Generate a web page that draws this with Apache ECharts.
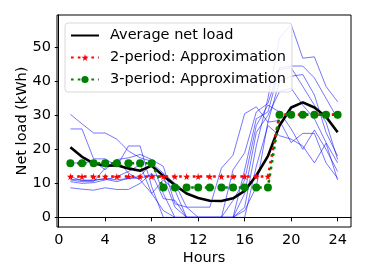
<!DOCTYPE html>
<html>
<head>
<meta charset="utf-8">
<script src="https://cdn.jsdelivr.net/npm/echarts@6/dist/echarts.min.js"></script>
<style>html,body{margin:0;padding:0;background:#fff;}#c{width:374px;height:280px;}</style>
</head>
<body>
<div id="c"></div>
<script>
const hours = [1,2,3,4,5,6,7,8,9,10,11,12,13,14,15,16,17,18,19,20,21,22,23,24];
const xTicks = [0,4,8,12,16,20,24];
const yTicks = [0,10,20,30,40,50];

const house1 = [30.3,27.5,24.8,24.8,23,19.5,17.5,16.5,7,0,0,0,0,0,0,3,21,35,52.8,56.7,46.8,47.2,38.5,34];
const house2 = [26,26,17.2,17.2,15,21,21,9,0,0,0,0,0,0,14,19,31,33.5,44,44.5,44.5,41,35,29];
const house3 = [11,10.5,10.5,14.5,17,17.5,18.5,17,15,4,3,3,3,14.5,18.3,30.5,32.5,28,40,41.5,42,36,25,18];
const house4 = [10.5,10,10.2,11,12,13.5,15.5,7,2,0,0,0,0,0,5,11,27,33,31,26,20,25.7,20,13.5];
const house5 = [8.7,8.3,8,8.7,8.2,8.2,10,13,5.5,5,0,0,0,0,0,2,9,28,28.5,22,24.7,24.7,16,11.5];
const house6 = [11.2,11,10.8,11.5,11,11.5,12,16,13,10,3,0,0,0,0,0,15,27,24,23,21,16,21.8,11];
const house7 = [16,16,16.5,14,17,13,11,7,11,8,0,0,0,0,0,7,25,30,37,38,33,29,22,16];
const house8 = [12,10.8,11,11.2,10.5,11.5,11.5,12.5,12,3,0,0,0,0,0,14,29,31,43.5,44,38.5,33,28,17];
const houses = [house1,house2,house3,house4,house5,house6,house7,house8];

const avgLoad = [20.6,17.8,15.9,15.2,15.3,14.4,13.7,15.2,12.2,9.5,7.0,5.7,4.9,4.8,5.6,7.8,12.3,18,27,32.3,33.8,32.3,29.6,25];
const twoPeriod = [12,12,12,12,12,12,12,12,12,12,12,12,12,12,12,12,12,12,30.2,30.2,30.2,30.2,30.2,30.2];
const threePeriod = [15.9,15.9,15.9,15.9,15.9,15.9,15.9,15.9,8.8,8.8,8.8,8.8,8.8,8.8,8.8,8.8,8.8,8.8,30.2,30.2,30.2,30.2,30.2,30.2];

const names = ['Average net load','2-period: Approximation','3-period: Approximation'];
const FONT = 'DejaVu Sans';
const FS = 14.5;
const star = 'path://M50,0 L61,35 L98,35 L68,57 L79,91 L50,70 L21,91 L32,57 L2,35 L39,35 Z';

const pairs = a => hours.map((h,i)=>[h,a[i]]);
const series = [];
houses.forEach(h => series.push({
  type:'line', data:pairs(h), symbol:'none', silent:true,
  lineStyle:{color:'rgba(0,0,255,0.6)', width:0.9}, z:1
}));
series.push({name:names[0], type:'line', data:pairs(avgLoad), symbol:'none',
  lineStyle:{color:'#000', width:2.6}, itemStyle:{color:'#000'}, z:3});
series.push({name:names[1], type:'line', data:pairs(twoPeriod), symbol:star, symbolSize:7,
  lineStyle:{color:'#ff0000', width:2.6, type:[2.6,4.2]}, itemStyle:{color:'#ff0000'}, z:4});
series.push({name:names[2], type:'line', data:pairs(threePeriod), symbol:'circle', symbolSize:8,
  lineStyle:{color:'#008000', width:2.6, type:[2.6,4.2]}, itemStyle:{color:'#008000'}, z:5});

const chart = echarts.init(document.getElementById('c'), null, {renderer:'canvas'});
chart.setOption({
  animation:false,
  backgroundColor:'#fff',
  grid:{left:57, right:23, top:15, bottom:53, show:true, borderColor:'#000', borderWidth:1, backgroundColor:'transparent'},
  legend:{data:[{name:names[0], itemStyle:{opacity:0}}, {name:names[1]}, {name:names[2]}],
    orient:'vertical', left:65, top:23, itemWidth:28, itemHeight:9, itemGap:7,
    padding:[5,6,5,5], backgroundColor:'rgba(255,255,255,0.85)', borderColor:'#d8d8d8', borderWidth:1, borderRadius:3,
    textStyle:{fontFamily:FONT, fontSize:FS, color:'#000', padding:[0,0,0,6]}},
  xAxis:{type:'value', min:-0.15, max:25.15, name:'Hours', nameLocation:'middle', nameGap:24, nameMoveOverlap:false,
    nameTextStyle:{fontFamily:FONT, fontSize:FS, color:'#000'},
    axisLine:{show:true, lineStyle:{color:'#000', width:1}},
    axisTick:{show:true, length:4, lineStyle:{color:'#000'}, customValues:xTicks},
    axisLabel:{fontFamily:FONT, fontSize:FS, color:'#000', margin:6, customValues:xTicks},
    splitLine:{show:false}},
  yAxis:{type:'value', min:-2.83, max:59.5, name:'Net load (kWh)', nameLocation:'middle', nameGap:27, nameMoveOverlap:false,
    nameTextStyle:{fontFamily:FONT, fontSize:FS, color:'#000'},
    axisLine:{show:true, lineStyle:{color:'#000', width:1}},
    axisTick:{show:true, length:4, lineStyle:{color:'#000'}, customValues:yTicks},
    axisLabel:{fontFamily:FONT, fontSize:FS, color:'#000', margin:6, customValues:yTicks},
    splitLine:{show:false}},
  series:series
});
</script>
</body>
</html>
